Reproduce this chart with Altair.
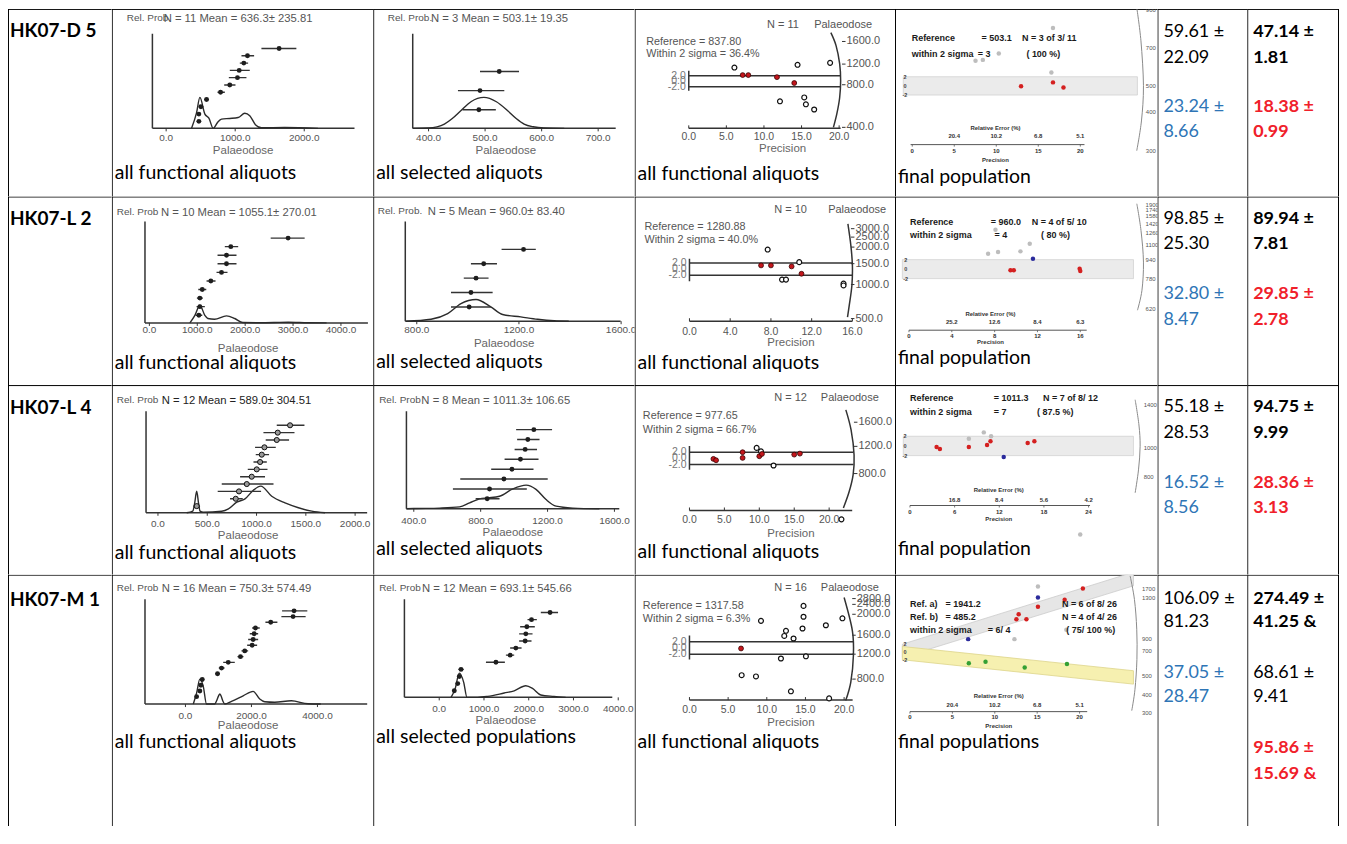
import altair as alt
import pandas as pd

# ============================ DATA ============================
SAMPLES = ["HK07-D 5", "HK07-L 2", "HK07-L 4", "HK07-M 1"]

# --- column 2 / 3 : probability plots (dose, error-bar ends, bottom -> top) ---
D5_ALL_DOSE = [474, 474, 503, 585, 788, 922, 1033, 1058, 1125, 1178, 1636]
D5_ALL_LO = [445, 445, 474, 552, 744, 841, 908, 922, 1067, 1091, 1380]
D5_ALL_HI = [503, 503, 538, 619, 850, 1004, 1163, 1211, 1187, 1274, 1886]
D5_ALL_KX = [368, 440, 489, 561, 619, 682, 744, 802, 922, 1043, 1139, 1211, 1293, 1380, 1717, 2199]
D5_ALL_KP = [0, 0.5, 1.0, 0.46, 0.33, 0, 0.19, 0.3, 0.32, 0.35, 0.49, 0.41, 0.12, 0.02, 0.03, 0]

D5_SEL_DOSE = [489, 491, 525]
D5_SEL_LO = [460, 452, 491]
D5_SEL_HI = [519, 534, 560]
D5_SEL_KX = [372, 400, 415, 428, 442, 457, 475, 498, 520, 540, 555, 569, 585, 604, 640]
D5_SEL_KP = [0, 0.01, 0.05, 0.14, 0.32, 0.57, 0.86, 1.0, 0.86, 0.57, 0.32, 0.14, 0.05, 0.01, 0]

L2_ALL_DOSE = [1033, 1054, 1054, 1104, 1283, 1506, 1610, 1610, 1700, 2896]
L2_ALL_LO = [965, 985, 992, 1021, 1194, 1402, 1423, 1423, 1575, 2533]
L2_ALL_HI = [1104, 1158, 1117, 1188, 1381, 1631, 1819, 1819, 1854, 3242]
L2_ALL_KX = [846, 950, 1054, 1158, 1221, 1360, 1610, 1783, 1950, 2300, 2600, 2900, 3300, 3700]
L2_ALL_KP = [0, 0.43, 1.0, 0.43, 0.25, 0.21, 0.4, 0.25, 0.02, 0.01, 0.02, 0.04, 0.01, 0]

L2_SEL_DOSE = [1005, 1012, 1032, 1062, 1218]
L2_SEL_LO = [934, 934, 984, 1012, 1132]
L2_SEL_HI = [1090, 1097, 1081, 1114, 1266]
L2_SEL_KX = [758, 856, 921, 973, 1032, 1090, 1136, 1207, 1273, 1338, 1395]
L2_SEL_KP = [0, 0.09, 0.35, 0.81, 1.0, 0.66, 0.31, 0.2, 0.09, 0.02, 0]

L4_ALL_DOSE = [393, 789, 822, 901, 951, 1002, 1036, 1053, 1080, 1205, 1215, 1340]
L4_ALL_LO = [360, 731, 606, 647, 833, 911, 969, 992, 985, 1093, 1070, 1205]
L4_ALL_HI = [427, 860, 1046, 1172, 1086, 1111, 1104, 1127, 1195, 1330, 1385, 1486]
L4_ALL_KX = [292, 353, 372, 393, 412, 427, 461, 647, 715, 799, 883, 969, 1043, 1154, 1289, 1425, 1560, 1695]
L4_ALL_KP = [0, 0.06, 0.35, 0.81, 0.35, 0.06, 0.02, 0.06, 0.15, 0.4, 0.52, 0.85, 1.0, 0.62, 0.37, 0.19, 0.06, 0]

L4_SEL_DOSE = [839, 853, 939, 987, 1038, 1066, 1082, 1118]
L4_SEL_LO = [770, 634, 678, 863, 943, 1003, 1018, 1012]
L4_SEL_HI = [913, 1076, 1201, 1116, 1146, 1137, 1152, 1227]
L4_SEL_KX = [356, 400, 555, 674, 734, 794, 843, 913, 992, 1072, 1131, 1191, 1251, 1350, 1510]
L4_SEL_KP = [0, 0.01, 0.03, 0.08, 0.25, 0.42, 0.46, 0.53, 0.84, 1.0, 0.82, 0.39, 0.11, 0.03, 0]

M1_ALL_DOSE = [337, 437, 467, 509, 972, 1093, 1296, 1667, 1797, 2021, 2051, 2082, 2121, 2584, 3261, 3291]
M1_ALL_LO = [286, 376, 407, 449, 903, 1011, 1144, 1577, 1698, 1870, 1900, 1949, 2021, 2423, 2907, 2928]
M1_ALL_HI = [389, 497, 528, 570, 1042, 1184, 1495, 1758, 1900, 2172, 2203, 2203, 2251, 2786, 3642, 3693]
M1_ALL_KX = [237, 337, 437, 540, 639, 890, 940, 1000, 1042, 1080, 1140, 1193, 1395, 1749, 2051, 2251, 2402, 2704, 3209, 3714, 4100]
M1_ALL_KP = [0, 0.44, 1.0, 0.71, 0, 0, 0.12, 0.32, 0.41, 0.32, 0.1, 0, 0.11, 0.33, 0.51, 0.2, 0.09, 0.07, 0.13, 0.01, 0]

M1_SEL_DOSE = [337, 413, 449, 487, 1267, 1585, 1712, 1920, 1935, 1958, 2062, 2477]
M1_SEL_LO = [300, 375, 405, 427, 1044, 1490, 1585, 1786, 1786, 1808, 1973, 2270]
M1_SEL_HI = [375, 450, 493, 547, 1467, 1675, 1840, 2062, 2085, 2136, 2181, 2655]
M1_SEL_KX = [264, 353, 449, 547, 620, 859, 1082, 1452, 1675, 1935, 2085, 2270, 2566, 2826]
M1_SEL_KP = [0, 0.34, 1.0, 0.62, 0, 0, 0.04, 0.18, 0.27, 0.48, 0.37, 0.1, 0.04, 0]

# --- column 4 : radial plots (precision, standardised estimate) ---
D5_RAD_OPEN_P = [6.07, 14.47, 18.8, 12.13, 15.36, 15.58, 16.68]
D5_RAD_OPEN_Z = [5.0, 6.0, 6.7, -7.3, -5.9, -8.4, -10.3]
D5_RAD_RED_P = [7.17, 7.92, 11.73, 14.03]
D5_RAD_RED_Z = [2.25, 2.25, 1.5, -0.65]
D5_RAD_ARC_P = [18.9, 19.6, 20.07, 20.2, 20.07, 19.7, 19.24]
D5_RAD_ARC_Z = [17.7, 12.9, 6.4, 0.2, -6.0, -11.8, -16.8]
D5_RAD_ARC_T = ["1600.0", "1200.0", "800.0", "400.0"]
D5_RAD_ARC_LZ = [14.5, 6.25, -1.27, -16.8]

L2_RAD_OPEN_P = [7.68, 10.78, 9.09, 9.48, 15.13, 15.13]
L2_RAD_OPEN_Z = [6.4, 2.3, -3.4, -3.4, -4.7, -5.3]
L2_RAD_RED_P = [7.03, 8.0, 10.03, 11.0]
L2_RAD_RED_Z = [1.23, 1.23, 0.9, -1.5]
L2_RAD_ARC_P = [15.56, 15.85, 16.0, 15.95, 15.69, 15.52]
L2_RAD_ARC_Z = [14.8, 7.7, 1.2, -5.3, -11.8, -15.6]
L2_RAD_ARC_T = ["3000.0", "2500.0", "2000.0", "1500.0", "1000.0", "500.0"]
L2_RAD_ARC_LZ = [13.2, 10.45, 7.2, 1.8, -5.0, -16.1]

L4_RAD_OPEN_P = [9.62, 10.24, 12.04, 21.76]
L4_RAD_OPEN_Z = [3.4, 2.3, -2.3, -19.7]
L4_RAD_RED_P = [3.43, 3.81, 7.61, 7.61, 10.0, 10.38, 15.0, 15.81]
L4_RAD_RED_Z = [-0.16, -0.6, 2.0, 0.16, 0.7, 1.45, 1.23, 1.55]
L4_RAD_ARC_P = [22.39, 23.14, 23.57, 23.43, 22.86, 22.04]
L4_RAD_ARC_Z = [15.7, 9.2, 1.13, -5.3, -10.8, -16.0]
L4_RAD_ARC_T = ["1600.0", "1200.0", "800.0"]
L4_RAD_ARC_LZ = [11.7, 3.9, -4.9]

M1_RAD_OPEN_P = [9.25, 14.75, 14.75, 14.62, 12.48, 12.26, 13.46, 17.64, 19.78, 11.83, 15.06, 6.75, 8.6, 13.12, 18.06]
M1_RAD_OPEN_Z = [8.77, 13.6, 10.1, 6.3, 5.55, 3.9, 3.06, 7.35, 9.6, -3.4, -2.7, -8.8, -9.2, -14.0, -16.3]
M1_RAD_RED_P = [6.67]
M1_RAD_RED_Z = [-0.16]
M1_RAD_ARC_P = [20.0, 21.07, 21.2, 20.86, 20.2]
M1_RAD_ARC_Z = [16.3, 5.55, -2.5, -11.1, -17.0]
M1_RAD_ARC_T = ["2800.0", "2400.0", "2000.0", "1600.0", "1200.0", "800.0"]
M1_RAD_ARC_LZ = [15.97, 14.1, 10.9, 4.13, -2.0, -10.06]

# --- column 5 : final populations ---
D5_FIN_RED_P = [12.95, 16.75, 18.0]
D5_FIN_RED_Z = [-0.1, 0.77, -0.33]
D5_FIN_GRAY_P = [16.75, 7.53, 8.4, 16.56, 10.3]
D5_FIN_GRAY_Z = [12.7, 5.5, 5.7, 2.95, 7.1]
D5_FIN_ARC_P = [26.72, 27.22, 27.52, 27.28, 26.72]
D5_FIN_ARC_Z = [17.15, 9.87, 0.03, -7.68, -14.2]
D5_FIN_ARC_T = ["900", "700", "500", "400", "300"]
D5_FIN_ARC_LZ = [16.6, 8.4, -0.12, -5.8, -14.3]
D5_FIN_RELERR = ["20.4", "10.2", "6.8", "5.1"]

L2_FIN_RED_P = [9.48, 9.79, 15.94, 16.0]
L2_FIN_RED_Z = [-0.25, -0.25, 0.1, -0.4]
L2_FIN_BLUE_P = [11.58]
L2_FIN_BLUE_Z = [2.2]
L2_FIN_GRAY_P = [7.39, 8.32, 10.41, 11.28, 8.08]
L2_FIN_GRAY_Z = [3.26, 3.6, 3.75, 5.37, 8.3]
L2_FIN_ARC_P = [21.28, 21.67, 21.9, 21.76, 21.34]
L2_FIN_ARC_Z = [13.8, 8.17, 1.49, -4.46, -8.67]
L2_FIN_ARC_T = ["1900", "1740", "1580", "1420", "1260", "1100", "940", "780", "620"]
L2_FIN_ARC_LZ = [13.43, 12.38, 11.18, 9.58, 7.68, 5.16, 1.85, -2.0, -8.32]
L2_FIN_RELERR = ["25.2", "12.6", "8.4", "6.3"]

L4_FIN_RED_P = [3.58, 4.02, 7.91, 10.36, 10.82, 15.82, 16.72]
L4_FIN_RED_Z = [-0.2, -0.62, -0.2, 0.2, 0.97, 0.62, 0.97]
L4_FIN_GRAY_P = [7.91, 9.92, 10.9, 22.88]
L4_FIN_GRAY_Z = [1.5, 2.8, 2.0, -18.3]
L4_FIN_BLUE_P = [12.6]
L4_FIN_BLUE_Z = [-2.27]
L4_FIN_ARC_P = [30.26, 30.77, 30.93, 30.71, 30.26]
L4_FIN_ARC_Z = [9.55, 4.33, -0.06, -4.95, -9.69]
L4_FIN_ARC_T = ["1400", "1000", "800"]
L4_FIN_ARC_LZ = [8.52, -0.41, -6.39]
L4_FIN_RELERR = ["16.8", "8.4", "5.6", "4.2"]

M1_FIN_RED_P = [20.39, 15.09, 12.82, 12.55, 13.73, 18.24]
M1_FIN_RED_Z = [16.3, 11.6, 9.7, 8.4, 8.4, 13.4]
M1_FIN_BLUE_P = [15.09, 6.86]
M1_FIN_BLUE_Z = [14.0, 3.3]
M1_FIN_GRAY_P = [15.09, 12.32, 18.44]
M1_FIN_GRAY_Z = [16.8, 3.3, 5.7]
M1_FIN_GREEN_P = [6.94, 8.91, 13.53, 18.51]
M1_FIN_GREEN_Z = [-2.9, -2.5, -4.0, -3.1]
M1_BAND_A_P = [-0.9, 26.35]
M1_BAND_A_LO = [-1.41, 17.0]
M1_BAND_A_HI = [2.0, 20.5]
M1_BAND_B_P = [-0.9, 26.35]
M1_BAND_B_LO = [-2.0, -8.26]
M1_BAND_B_HI = [1.41, -4.82]
M1_FIN_ARC_P = [25.96, 26.47, 26.74, 26.76, 26.53, 26.15]
M1_FIN_ARC_Z = [19.54, 13.46, 5.85, -1.92, -9.62, -15.08]
M1_FIN_ARC_T = ["1700", "1300", "900", "700", "500", "400", "300"]
M1_FIN_ARC_LZ = [16.28, 13.97, 3.28, 0.31, -6.28, -11.08, -15.69]
M1_FIN_RELERR = ["20.4", "10.2", "6.8", "5.1"]

# --- columns 6 and 7 : values ---
C6_TEXT = [["59.61 ±", "22.09", "23.24 ±", "8.66"],
           ["98.85 ±", "25.30", "32.80 ±", "8.47"],
           ["55.18 ±", "28.53", "16.52 ±", "8.56"],
           ["106.09 ±", "81.23", "37.05 ±", "28.47"]]
C7_TEXT = [["47.14 ±", "1.81", "18.38 ±", "0.99"],
           ["89.94 ±", "7.81", "29.85 ±", "2.78"],
           ["94.75 ±", "9.99", "28.36 ±", "3.13"],
           ["274.49 ±", "41.25 &", "68.61 ±", "9.41", "95.86 ±", "15.69 &"]]

# ============================ LAYOUT / STYLE ============================
COL_LEFT = [8, 112, 374, 636, 897, 1160, 1250]
COL_W = [104, 262, 262, 261, 263, 90, 92]
ROW_TOP = [8, 196, 385, 575]
ROW_H = [188, 189, 190, 252]

PF = "Liberation Sans"
DF = "Lato"
AXC = "#333333"
GTX = "#555555"
BLUE = "#2e75b6"
RED = "#f0202a"
ONE = pd.DataFrame({"k": [0]})

CAP_SIZE = 19.5
NUM_SIZE = 18


def xdom(v1, p1, v2, p2, left, width):
    s = (p2 - p1) / (v2 - v1)
    return [v1 + (left - p1) / s, v1 + (left + width - p1) / s]


def ydom(v1, p1, v2, p2, top, height):
    s = (p2 - p1) / (v2 - v1)
    return [v1 + (top + height - p1) / s, v1 + (top - p1) / s]


def lab(text, px, py, L, T, size=10.5, color=GTX, font=PF, align="left", weight="normal"):
    return alt.Chart(ONE).mark_text(
        text=text, align=align, baseline="middle", font=font, fontSize=size,
        color=color, fontWeight=weight, clip=True
    ).encode(x=alt.value(px - L), y=alt.value(py - T))


def borders(r, c):
    W, H = COL_W[c], ROW_H[r]
    out = [
        alt.Chart(ONE).mark_rule(color="black", strokeWidth=1, clip=True).encode(
            x=alt.value(0.5), y=alt.value(0), y2=alt.value(H)),
        alt.Chart(ONE).mark_rule(color="black", strokeWidth=1, clip=True).encode(
            x=alt.value(0), x2=alt.value(W), y=alt.value(0.5)),
    ]
    if c == 6:
        out.append(alt.Chart(ONE).mark_rule(color="black", strokeWidth=1, clip=True).encode(
            x=alt.value(W - 0.5), y=alt.value(0), y2=alt.value(H)))
    return out


def caption(text, py, L, T):
    return lab(text, L + 3, py, L, T, size=CAP_SIZE, color="black", font=DF)


def kde_cell(r, c, dose, lo, hi, kx, kp, cfg):
    L, T, W, H = COL_LEFT[c], ROW_TOP[r], COL_W[c], ROW_H[r]
    XS = alt.Scale(domain=xdom(*cfg["cal"], L, W), nice=False, zero=False)
    base = cfg["base"]
    YC = alt.Scale(domain=ydom(0, base, 1, base - cfg["peak"], T, H), nice=False, zero=False)
    n = len(dose)
    YR = alt.Scale(domain=ydom(1, cfg["rank_py"][0], n, cfg["rank_py"][1], T, H), nice=False, zero=False)
    pts = pd.DataFrame({"rank": list(range(1, n + 1)), "dose": dose, "lo": lo, "hi": hi})
    kde = pd.DataFrame({"x": kx, "p": kp})
    axdf = pd.DataFrame({"a": [cfg["ax"][0]], "b": [cfg["ax"][1]]})
    tk = pd.DataFrame({"v": cfg["ticks"], "t": [f"{v:.1f}" for v in cfg["ticks"]]})

    def X(f):
        return alt.X(f, scale=XS, axis=None)

    by = base - T
    if cfg.get("hollow"):
        dots = alt.Chart(pts).mark_circle(color="#9a9a9a", stroke="#111111", strokeWidth=1, size=26,
                                          opacity=1, clip=True)
    else:
        dots = alt.Chart(pts).mark_circle(color="#1e1e1e", size=24, opacity=1, clip=True)
    layers = borders(r, c) + [
        alt.Chart(axdf).mark_rule(color=AXC, strokeWidth=1.5, clip=True).encode(
            x=X("a:Q"), x2="b:Q", y=alt.value(by)),
        alt.Chart(axdf).mark_rule(color=AXC, strokeWidth=1.5, clip=True).encode(
            x=X("a:Q"), y=alt.value(cfg["ytop"] - T), y2=alt.value(by)),
        alt.Chart(tk).mark_rule(color=AXC, strokeWidth=1, clip=True).encode(
            x=X("v:Q"), y=alt.value(by), y2=alt.value(by + 3)),
        alt.Chart(tk).mark_text(font=PF, fontSize=10, color=GTX, baseline="middle", clip=True).encode(
            x=X("v:Q"), y=alt.value(cfg["tick_py"] - T), text="t:N"),
        alt.Chart(kde).mark_line(color="#2b2b2b", strokeWidth=1.4, interpolate="monotone", clip=True).encode(
            x=X("x:Q"), y=alt.Y("p:Q", scale=YC, axis=None)),
        alt.Chart(pts).mark_rule(color="#333333", strokeWidth=1.4, clip=True).encode(
            x=X("lo:Q"), x2="hi:Q", y=alt.Y("rank:Q", scale=YR, axis=None)),
        dots.encode(x=X("dose:Q"), y=alt.Y("rank:Q", scale=YR, axis=None)),
        lab(cfg["rp"][0], cfg["rp"][1], cfg["rp"][2], L, T, size=10),
        lab(cfg["nt"][0], cfg["nt"][1], cfg["rp"][2] + 1, L, T, size=11.3, color=cfg.get("ncol", GTX)),
        lab("Palaeodose", cfg["pal"][0], cfg["pal"][1], L, T, size=11.5, align="center", color="#666666"),
        caption(cfg["cap"][0], cfg["cap"][1], L, T),
    ]
    return alt.layer(*layers).resolve_scale(y="independent").properties(width=W, height=H)


def rad_cell(r, c, op, oz, rp, rz, arc_p, arc_z, arc_t, arc_lz, cfg):
    L, T, W, H = COL_LEFT[c], ROW_TOP[r], COL_W[c], ROW_H[r]
    XS = alt.Scale(domain=xdom(*cfg["xcal"], L, W), nice=False, zero=False)
    YS = alt.Scale(domain=ydom(*cfg["zcal"], T, H), nice=False, zero=False)
    s = (cfg["xcal"][3] - cfg["xcal"][1]) / (cfg["xcal"][2] - cfg["xcal"][0])

    def X(f):
        return alt.X(f, scale=XS, axis=None)

    def Y(f):
        return alt.Y(f, scale=YS, axis=None)

    le = cfg["line_end"]
    lines = pd.DataFrame({"a": [0.0, 0.0], "b": [le, le], "z": [2, -2]})
    laxis = pd.DataFrame({"a": [0.0], "z1": [cfg["laxis"][0]], "z2": [cfg["laxis"][1]]})
    zl = pd.DataFrame({"a": [0.0, 0.0, 0.0], "z": [2, 0, -2], "t": ["2.0", "0.0", "-2.0"]})
    xax = pd.DataFrame({"a": [0.0], "b": [cfg["xend"]]})
    tk = pd.DataFrame({"v": cfg["ticks"], "t": [f"{v:.1f}" for v in cfg["ticks"]]})
    arc = pd.DataFrame({"i": list(range(len(arc_p))), "p": arc_p, "z": arc_z})
    lx = cfg["arc_lx"]
    arcl = pd.DataFrame({"p": [lx] * len(arc_t), "p0": [lx - 3.5 / s] * len(arc_t),
                         "z": arc_lz, "t": arc_t})
    opn = pd.DataFrame({"p": op, "z": oz})
    red = pd.DataFrame({"p": rp, "z": rz})
    ay = cfg["xaxis_py"] - T
    ref = cfg["ref"]
    layers = borders(r, c) + [
        alt.Chart(lines).mark_rule(color=AXC, strokeWidth=1.5, clip=True).encode(
            x=X("a:Q"), x2="b:Q", y=Y("z:Q")),
        alt.Chart(laxis).mark_rule(color=AXC, strokeWidth=1.5, clip=True).encode(
            x=X("a:Q"), y=Y("z1:Q"), y2="z2:Q"),
        alt.Chart(zl).mark_text(align="right", baseline="middle", dx=-3, font=PF, fontSize=10.5,
                                color="#777777", clip=True).encode(x=X("a:Q"), y=Y("z:Q"), text="t:N"),
        alt.Chart(xax).mark_rule(color=AXC, strokeWidth=1.5, clip=True).encode(
            x=X("a:Q"), x2="b:Q", y=alt.value(ay)),
        alt.Chart(tk).mark_rule(color=AXC, strokeWidth=1, clip=True).encode(
            x=X("v:Q"), y=alt.value(ay), y2=alt.value(ay - 3)),
        alt.Chart(tk).mark_text(font=PF, fontSize=10.5, color=GTX, baseline="middle", clip=True).encode(
            x=X("v:Q"), y=alt.value(cfg["tick_py"] - T), text="t:N"),
        alt.Chart(arc).mark_line(color=AXC, strokeWidth=1.5, interpolate="cardinal", clip=True).encode(
            x=X("p:Q"), y=Y("z:Q"), order="i:Q"),
        alt.Chart(arcl).mark_rule(color=AXC, strokeWidth=1, clip=True).encode(
            x=X("p0:Q"), x2="p:Q", y=Y("z:Q")),
        alt.Chart(arcl).mark_text(align="left", baseline="middle", dx=1, font=PF, fontSize=11,
                                  color=GTX, clip=True).encode(x=X("p:Q"), y=Y("z:Q"), text="t:N"),
        alt.Chart(opn).mark_circle(color="white", stroke="#111111", strokeWidth=1.2, size=24, opacity=1,
                                   clip=True).encode(x=X("p:Q"), y=Y("z:Q")),
        alt.Chart(red).mark_circle(color="#c4161c", stroke="#3a0000", strokeWidth=0.8, size=24, opacity=1,
                                   clip=True).encode(x=X("p:Q"), y=Y("z:Q")),
        lab(cfg["ntop"][0], cfg["ntop"][1], cfg["ntop"][2], L, T, size=11),
        lab("Palaeodose", cfg["palx"], cfg["ntop"][2], L, T, size=11),
        lab(ref[0], ref[2], ref[3], L, T, size=10.8),
        lab(ref[1], ref[2], ref[4], L, T, size=10.8),
        lab("Precision", cfg["prec"][0], cfg["prec"][1], L, T, size=11.5, align="center", color="#666666"),
        caption("all functional aliquots", cfg["cap_py"], L, T),
    ]
    return alt.layer(*layers).properties(width=W, height=H)


def fin_cell(r, c, groups, arc_p, arc_z, arc_t, arc_lz, relerr, cfg, bands=None):
    L, T, W, H = COL_LEFT[c], ROW_TOP[r], COL_W[c], ROW_H[r]
    XS = alt.Scale(domain=xdom(*cfg["xcal"], L, W), nice=False, zero=False)
    YS = alt.Scale(domain=ydom(*cfg["zcal"], T, H), nice=False, zero=False)

    def X(f):
        return alt.X(f, scale=XS, axis=None)

    def Y(f):
        return alt.Y(f, scale=YS, axis=None)

    layers = borders(r, c)
    if bands is None:
        b = pd.DataFrame({"a": [cfg["band"][0]], "b": [cfg["band"][1]], "z1": [-2], "z2": [2]})
        layers.append(alt.Chart(b).mark_rect(color="#ebebeb", stroke="#d2d2d2", strokeWidth=0.8,
                                             clip=True).encode(x=X("a:Q"), x2="b:Q", y=Y("z1:Q"), y2="z2:Q"))
    else:
        for bp, blo, bhi, fill, edge in bands:
            bd = pd.DataFrame({"p": bp, "lo": blo, "hi": bhi})
            layers.append(alt.Chart(bd).mark_area(color=fill, stroke=edge, strokeWidth=0.8, opacity=1,
                                                  clip=True).encode(x=X("p:Q"), y=Y("lo:Q"), y2="hi:Q"))
    zl = pd.DataFrame({"z": [2, 0, -2], "t": ["2", "0", "-2"]})
    ay = cfg["axis_py"] - T
    xax = pd.DataFrame({"a": [cfg["axis_ext"][0]], "b": [cfg["axis_ext"][1]]})
    bt = pd.DataFrame({"v": cfg["bticks"], "t": [str(v) for v in cfg["bticks"]]})
    tt = pd.DataFrame({"v": cfg["bticks"][1:], "t": relerr})
    arc = pd.DataFrame({"i": list(range(len(arc_p))), "p": arc_p, "z": arc_z})
    arcl = pd.DataFrame({"p": [cfg["arc_lx"]] * len(arc_t), "z": arc_lz, "t": arc_t})
    layers += [
        alt.Chart(zl).mark_text(font=PF, fontSize=5.5, fontWeight="bold", color="#444444", baseline="middle",
                                clip=True).encode(x=alt.value(cfg["zlab_px"] - L), y=Y("z:Q"), text="t:N"),
        alt.Chart(xax).mark_rule(color="#555555", strokeWidth=1, clip=True).encode(
            x=X("a:Q"), x2="b:Q", y=alt.value(ay)),
        alt.Chart(bt).mark_rule(color="#555555", strokeWidth=0.8, clip=True).encode(
            x=X("v:Q"), y=alt.value(ay), y2=alt.value(ay + 2)),
        alt.Chart(bt).mark_text(font=PF, fontSize=6, fontWeight="bold", color="#333333", baseline="middle",
                                clip=True).encode(x=X("v:Q"), y=alt.value(cfg["b_py"] - T), text="t:N"),
        alt.Chart(tt).mark_text(font=PF, fontSize=6, fontWeight="bold", color="#333333", baseline="middle",
                                clip=True).encode(x=X("v:Q"), y=alt.value(cfg["top_py"] - T), text="t:N"),
        lab("Relative Error (%)", cfg["re_title"][0], cfg["re_title"][1], L, T, size=6, align="center",
            color="#333333", weight="bold"),
        lab("Precision", cfg["prec_title"][0], cfg["prec_title"][1], L, T, size=6, align="center",
            color="#333333", weight="bold"),
        alt.Chart(arc).mark_line(color="#8a8a8a", strokeWidth=1, interpolate="cardinal", clip=True).encode(
            x=X("p:Q"), y=Y("z:Q"), order="i:Q"),
        alt.Chart(arcl).mark_text(align="left", baseline="middle", font=PF, fontSize=6, color="#555555",
                                  clip=True).encode(x=X("p:Q"), y=Y("z:Q"), text="t:N"),
    ]
    for gp, gz, col in groups:
        g = pd.DataFrame({"p": gp, "z": gz})
        layers.append(alt.Chart(g).mark_circle(color=col, size=20, opacity=1, clip=True).encode(
            x=X("p:Q"), y=Y("z:Q")))
    for t, px, py in cfg["texts"]:
        layers.append(lab(t, px, py, L, T, size=9, color="#1a1a1a", weight="bold"))
    layers.append(caption(cfg["cap"][0], cfg["cap"][1], L, T))
    return alt.layer(*layers).properties(width=W, height=H)


def text_cell(r, c, lines, size):
    L, T, W, H = COL_LEFT[c], ROW_TOP[r], COL_W[c], ROW_H[r]
    layers = borders(r, c)
    for t, px, py, col, wt in lines:
        layers.append(lab(t, px, py, L, T, size=size, color=col, font=DF, weight=wt))
    return alt.layer(*layers).properties(width=W, height=H)


GRAYP = "#bdbdbd"
REDP = "#d42020"
BLUEP = "#2b2b9c"
GREENP = "#34a034"

# ------------------------------ cells ------------------------------
KDE = {
    (0, 1): (D5_ALL_DOSE, D5_ALL_LO, D5_ALL_HI, D5_ALL_KX, D5_ALL_KP, dict(
        cal=(0, 166.5, 1000, 235.7), base=127.7, peak=31, rank_py=(120.7, 47.7), ax=(-199, 2728), ytop=33,
        ticks=[0, 1000, 2000], tick_py=137.7, rp=("Rel. Prob", 127, 17),
        nt=("N = 11 Mean = 636.3± 235.81", 164), pal=(243.7, 150), cap=("all functional aliquots", 172))),
    (0, 2): (D5_SEL_DOSE, D5_SEL_LO, D5_SEL_HI, D5_SEL_KX, D5_SEL_KP, dict(
        cal=(400, 429.5, 700, 599.5), base=127.7, peak=31, rank_py=(109, 70.7), ax=(372, 731), ytop=33,
        ticks=[400, 500, 600, 700], tick_py=137.7, rp=("Rel. Prob.", 388.7, 17),
        nt=("N = 3 Mean = 503.1± 19.35", 432), pal=(507, 150), cap=("all selected aliquots", 172))),
    (1, 1): (L2_ALL_DOSE, L2_ALL_LO, L2_ALL_HI, L2_ALL_KX, L2_ALL_KP, dict(
        cal=(0, 149.7, 1000, 197.7), base=322.7, peak=17.7, rank_py=(315, 237.7), ax=(-92, 4563), ytop=221,
        ticks=[0, 1000, 2000, 3000, 4000], tick_py=330, rp=("Rel. Prob", 117, 211.7),
        nt=("N = 10 Mean = 1055.1± 270.01", 161.3), pal=(248.7, 349), cap=("all functional aliquots", 363.3))),
    (1, 2): (L2_SEL_DOSE, L2_SEL_LO, L2_SEL_HI, L2_SEL_KX, L2_SEL_KP, dict(
        cal=(800, 417.7, 1600, 622.5), base=321, peak=21.7, rank_py=(306.7, 249), ax=(755, 1598), ytop=221,
        ticks=[800, 1200, 1600], tick_py=330, rp=("Rel. Prob.", 378.7, 211),
        nt=("N = 5 Mean = 960.0± 83.40", 428.7), pal=(505.3, 344.3), cap=("all selected aliquots", 361.7))),
    (2, 1): (L4_ALL_DOSE, L4_ALL_LO, L4_ALL_HI, L4_ALL_KX, L4_ALL_KP, dict(
        cal=(0, 158.3, 2000, 355.9), base=513, peak=26.7, rank_py=(506.3, 425.3), ax=(-121, 2122), ytop=411.3,
        ticks=[0, 500, 1000, 1500, 2000], tick_py=524, rp=("Rel. Prob", 117, 399.7), hollow=True,
        nt=("N = 12 Mean = 589.0± 304.51", 162), ncol="#222222", pal=(248.7, 536),
        cap=("all functional aliquots", 553))),
    (2, 2): (L4_SEL_DOSE, L4_SEL_LO, L4_SEL_HI, L4_SEL_KX, L4_SEL_KP, dict(
        cal=(400, 414.7, 1600, 615.8), base=509, peak=23.7, rank_py=(499, 429.7), ax=(356, 1629), ytop=411.3,
        ticks=[400, 800, 1200, 1600], tick_py=521, rp=("Rel. Prob", 380, 399.7),
        nt=("N = 8 Mean = 1011.3± 106.65", 422.3), pal=(514, 533), cap=("all selected aliquots", 549))),
    (3, 1): (M1_ALL_DOSE, M1_ALL_LO, M1_ALL_HI, M1_ALL_KX, M1_ALL_KP, dict(
        cal=(0, 185.85, 4000, 318.15), base=704.7, peak=25, rank_py=(697.3, 611.3), ax=(-1226, 5507), ytop=599.7,
        ticks=[0, 2000, 4000], tick_py=717, rp=("Rel. Prob", 117, 588),
        nt=("N = 16 Mean = 750.3± 574.49", 162), pal=(248.7, 727), cap=("all functional aliquots", 743))),
    (3, 2): (M1_SEL_DOSE, M1_SEL_LO, M1_SEL_HI, M1_SEL_KX, M1_SEL_KP, dict(
        cal=(0, 440.2, 4000, 619.6), base=698, peak=24.3, rank_py=(691.3, 613), ax=(-778, 3867), ytop=599.7,
        ticks=[0, 1000, 2000, 3000, 4000], tick_py=709.7, rp=("Rel. Prob", 380, 588),
        nt=("N = 12 Mean = 693.1± 545.66", 423), pal=(507, 721.3), cap=("all selected populations", 738))),
}

RAD = {
    0: (D5_RAD_OPEN_P, D5_RAD_OPEN_Z, D5_RAD_RED_P, D5_RAD_RED_Z, D5_RAD_ARC_P, D5_RAD_ARC_Z, D5_RAD_ARC_T,
        D5_RAD_ARC_LZ, dict(xcal=(0, 690.3, 20, 841), zcal=(2, 75, -2, 86), line_end=20.2, laxis=(3.8, -3.45),
                            xaxis_py=127.7, xend=20.2, ticks=[0, 5, 10, 15, 20], tick_py=136.7,
                            prec=(784.3, 148.3), ntop=("N = 11", 768.7, 24.3), palx=816,
                            ref=("Reference = 837.80", "Within 2 sigma = 36.4%", 647.7, 40.7, 53.3),
                            arc_lx=20.85, cap_py=173.3)),
    1: (L2_RAD_OPEN_P, L2_RAD_OPEN_Z, L2_RAD_RED_P, L2_RAD_RED_Z, L2_RAD_ARC_P, L2_RAD_ARC_Z, L2_RAD_ARC_T,
        L2_RAD_ARC_LZ, dict(xcal=(0, 691, 16, 854.3), zcal=(2, 262.7, -2, 275), line_end=16.0, laxis=(3.43, -3.95),
                            xaxis_py=321, xend=16, ticks=[0, 4, 8, 12, 16], tick_py=331.7,
                            prec=(792.7, 343.3), ntop=("N = 10", 776, 210), palx=830,
                            ref=("Reference = 1280.88", "Within 2 sigma = 40.0%", 646, 226.7, 239.3),
                            arc_lx=16.2, cap_py=362.7)),
    2: (L4_RAD_OPEN_P, L4_RAD_OPEN_Z, L4_RAD_RED_P, L4_RAD_RED_Z, L4_RAD_ARC_P, L4_RAD_ARC_Z, L4_RAD_ARC_T,
        L4_RAD_ARC_LZ, dict(xcal=(0, 691, 20, 831), zcal=(2, 452.3, -2, 464.7), line_end=23.5, laxis=(4.0, -3.7),
                            xaxis_py=510.7, xend=23.3, ticks=[0, 5, 10, 15, 20], tick_py=520.3,
                            prec=(792.7, 534), ntop=("N = 12", 776, 398), palx=822.7,
                            ref=("Reference = 977.65", "Within 2 sigma = 66.7%", 644.3, 416.3, 429.7),
                            arc_lx=24.05, cap_py=552.3)),
    3: (M1_RAD_OPEN_P, M1_RAD_OPEN_Z, M1_RAD_RED_P, M1_RAD_RED_Z, M1_RAD_ARC_P, M1_RAD_ARC_Z, M1_RAD_ARC_T,
        M1_RAD_ARC_LZ, dict(xcal=(0, 691, 20, 846), zcal=(2, 642.3, -2, 654.7), line_end=21.2, laxis=(4.0, -3.7),
                            xaxis_py=700.7, xend=21.1, ticks=[0, 5, 10, 15, 20], tick_py=710.3,
                            prec=(792.7, 723.7), ntop=("N = 16", 776, 588), palx=822.7,
                            ref=("Reference = 1317.58", "Within 2 sigma = 6.3%", 644.3, 606.3, 619.7),
                            arc_lx=21.5, cap_py=743)),
}

FIN = {
    0: ([(D5_FIN_GRAY_P, D5_FIN_GRAY_Z, GRAYP), (D5_FIN_RED_P, D5_FIN_RED_Z, REDP)],
        D5_FIN_ARC_P, D5_FIN_ARC_Z, D5_FIN_ARC_T, D5_FIN_ARC_LZ, D5_FIN_RELERR,
        dict(xcal=(0, 914.3, 20, 1082.7), zcal=(2, 76, -2, 94.3), band=(-1.07, 26.8), zlab_px=907,
             texts=[("Reference", 913.7, 37.3), ("= 503.1", 983.7, 37.3), ("N = 3 of 3/ 11", 1024.3, 37.3),
                    ("within 2 sigma", 913.7, 52.7), ("= 3", 980, 52.7), ("( 100 %)", 1028.7, 52.7)],
             axis_py=144, axis_ext=(-0.2, 20.5), bticks=[0, 5, 10, 15, 20], b_py=150, top_py=135,
             re_title=(997.7, 127.7), prec_title=(997.7, 159.3), arc_lx=27.8,
             cap=("final population", 176.7)), None),
    1: ([(L2_FIN_GRAY_P, L2_FIN_GRAY_Z, GRAYP), (L2_FIN_RED_P, L2_FIN_RED_Z, REDP),
         (L2_FIN_BLUE_P, L2_FIN_BLUE_Z, BLUEP)],
        L2_FIN_ARC_P, L2_FIN_ARC_Z, L2_FIN_ARC_T, L2_FIN_ARC_LZ, L2_FIN_RELERR,
        dict(xcal=(0, 911, 16, 1082.7), zcal=(2, 259.3, -2, 278.3), band=(-0.62, 20.97), zlab_px=907.7,
             texts=[("Reference", 912, 221.7), ("= 960.0", 993, 221.7), ("N = 4 of 5/ 10", 1034, 221.7),
                    ("within 2 sigma", 912, 234.3), ("= 4", 996.7, 234.3), ("( 80 %)", 1043.3, 234.3)],
             axis_py=330, axis_ext=(0, 16.6), bticks=[0, 4, 8, 12, 16], b_py=336, top_py=321.7,
             re_title=(992.7, 313.3), prec_title=(992.7, 342.3), arc_lx=22.1,
             cap=("final population", 358.3)), None),
    2: ([(L4_FIN_GRAY_P, L4_FIN_GRAY_Z, GRAYP), (L4_FIN_RED_P, L4_FIN_RED_Z, REDP),
         (L4_FIN_BLUE_P, L4_FIN_BLUE_Z, BLUEP)],
        L4_FIN_ARC_P, L4_FIN_ARC_Z, L4_FIN_ARC_T, L4_FIN_ARC_LZ, L4_FIN_RELERR,
        dict(xcal=(0, 912, 24, 1091), zcal=(2, 436.3, -2, 455.7), band=(-0.9, 30.03), zlab_px=907,
             texts=[("Reference", 912, 398), ("= 1011.3", 996, 398), ("N = 7 of 8/ 12", 1045.3, 398),
                    ("within 2 sigma", 912, 412.3), ("= 7", 996, 412.3), ("( 87.5 %)", 1039.3, 412.3)],
             axis_py=505.7, axis_ext=(0, 24.2), bticks=[0, 6, 12, 18, 24], b_py=512.3, top_py=499.7,
             re_title=(1001, 490.3), prec_title=(1001, 519.7), arc_lx=31.4,
             cap=("final population", 549.7)), None),
    3: ([(M1_FIN_GRAY_P, M1_FIN_GRAY_Z, GRAYP), (M1_FIN_RED_P, M1_FIN_RED_Z, REDP),
         (M1_FIN_BLUE_P, M1_FIN_BLUE_Z, BLUEP), (M1_FIN_GREEN_P, M1_FIN_GREEN_Z, GREENP)],
        M1_FIN_ARC_P, M1_FIN_ARC_Z, M1_FIN_ARC_T, M1_FIN_ARC_LZ, M1_FIN_RELERR,
        dict(xcal=(0, 912, 20, 1082), zcal=(2, 644.7, -2, 660.3), zlab_px=907,
             texts=[("Ref. a)", 912, 604.7), ("= 1941.2", 947.7, 604.7), ("N = 6 of 8/ 26", 1064.3, 604.7),
                    ("Ref. b)", 912, 617.3), ("= 485.2", 947.7, 617.3), ("N = 4 of 4/ 26", 1064.3, 617.3),
                    ("within 2 sigma", 912, 630.3), ("= 6/ 4", 990, 630.3), ("( 75/ 100 %)", 1068.7, 630.3)],
             axis_py=712.3, axis_ext=(0, 20.9), bticks=[0, 5, 10, 15, 20], b_py=718, top_py=705.7,
             re_title=(1001, 697), prec_title=(1001, 727), arc_lx=27.35,
             cap=("final populations", 743)),
        [(M1_BAND_A_P, M1_BAND_A_LO, M1_BAND_A_HI, "#e6e6e6", "#cccccc"),
         (M1_BAND_B_P, M1_BAND_B_LO, M1_BAND_B_HI, "#f6f0b0", "#ddd48a")]),
}

C6_PY = [[30.7, 56.7, 106, 131.7], [218.3, 244, 294, 319.3], [407.3, 432.7, 483.3, 508.3],
         [599.3, 622.5, 673.3, 697.3]]
C7_PY = [[30.7, 56.7, 106, 131.7], [218.3, 244, 294, 319.3], [407.3, 432.7, 483.3, 508.3],
         [599.3, 622.5, 673.3, 697.3, 748.3, 775]]
C6_STYLE = [("black", "normal"), ("black", "normal"), (BLUE, "normal"), (BLUE, "normal")]
C7_STYLE = [("black", "bold"), ("black", "bold"), (RED, "bold"), (RED, "bold")]
C7_STYLE_M1 = [("black", "bold"), ("black", "bold"), ("black", "normal"), ("black", "normal"),
               (RED, "bold"), (RED, "bold")]
LABEL_PY = [30, 219, 408, 600]

rows = []
for r in range(4):
    cells = [text_cell(r, 0, [(SAMPLES[r], 10, LABEL_PY[r], "black", "bold")], 19)]
    for c in (1, 2):
        dose, lo, hi, kx, kp, cfg = KDE[(r, c)]
        cells.append(kde_cell(r, c, dose, lo, hi, kx, kp, cfg))
    op, oz, rp, rz, ap, az, at, alz, cfg = RAD[r]
    cells.append(rad_cell(r, 3, op, oz, rp, rz, ap, az, at, alz, cfg))
    groups, ap, az, at, alz, rel, cfg, bands = FIN[r]
    cells.append(fin_cell(r, 4, groups, ap, az, at, alz, rel, cfg, bands))
    cells.append(text_cell(r, 5, [(t, 1166, py, col, wt) for t, py, (col, wt)
                                  in zip(C6_TEXT[r], C6_PY[r], C6_STYLE)], NUM_SIZE))
    st7 = C7_STYLE_M1 if r == 3 else C7_STYLE
    cells.append(text_cell(r, 6, [(t, 1256, py, col, wt) for t, py, (col, wt)
                                  in zip(C7_TEXT[r], C7_PY[r], st7)], NUM_SIZE))
    rows.append(alt.hconcat(*cells, spacing=0, bounds="flush"))

chart = alt.vconcat(*rows, spacing=0).properties(padding=0).configure_view(
    strokeWidth=0, stroke="transparent")

chart.save("out.html", embed_options={"renderer": "svg", "actions": False})
